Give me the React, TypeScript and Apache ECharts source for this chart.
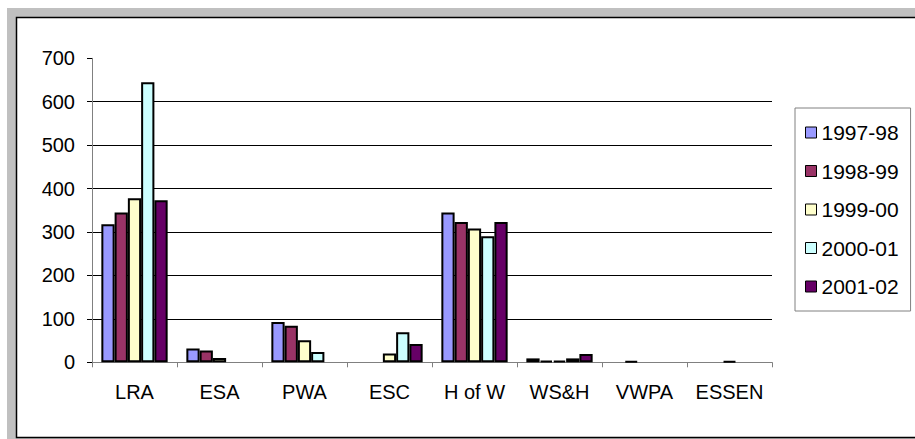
import React, { useEffect, useRef } from "react";
import * as echarts from "echarts";

const categories = ["LRA", "ESA", "PWA", "ESC", "H of W", "WS&H", "VWPA", "ESSEN"];
const seriesNames = ["1997-98", "1998-99", "1999-00", "2000-01", "2001-02"];
const v1997 = [318, 32, 93, null, 345, 9, null, null];
const v1998 = [345, 27, 84, null, 323, 4, 3, null];
const v1999 = [378, 10, 51, 20, 308, 4, null, 3];
const v2000 = [645, null, 24, 69, 290, 9, null, null];
const v2001 = [373, null, null, 42, 323, 19, null, null];
const seriesValues = [v1997, v1998, v1999, v2000, v2001];
const colors = ["#9999FF", "#993366", "#FFFFCC", "#CCFFFF", "#660066"];
const yMin = 0;
const yMax = 700;
const yStep = 100;

const FONT = "'Liberation Sans', Arial, sans-serif";

export default function App() {
  const ref = useRef<HTMLDivElement>(null);
  useEffect(() => {
    if (!ref.current) return;
    const chart = echarts.init(ref.current, null, { renderer: "svg" });
    chart.setOption({
      animation: false,
      backgroundColor: "#ffffff",
      textStyle: { fontFamily: FONT, color: "#000" },
      graphic: [
        {
          type: "rect",
          z: -10,
          shape: { x: 7, y: 8, width: 920, height: 440 },
          style: { fill: "#C0C0C0" },
        },
        {
          type: "rect",
          z: -9,
          shape: { x: 16.5, y: 17.5, width: 910, height: 420 },
          style: { fill: "#ffffff", stroke: "#000000", lineWidth: 1.5 },
        },
      ],
      grid: {
        left: 92,
        right: 143,
        top: 58.3,
        bottom: 76.7,
        containLabel: false,
      },
      legend: {
        orient: "vertical",
        left: 795,
        top: 108,
        padding: [14, 12, 14, 10],
        itemWidth: 11,
        itemHeight: 11,
        itemGap: 17.5,
        icon: "rect",
        borderColor: "#808080",
        borderWidth: 1,
        backgroundColor: "#ffffff",
        itemStyle: { borderColor: "#000", borderWidth: 1 },
        textStyle: { fontSize: 21, lineHeight: 21, color: "#000", fontFamily: FONT },
        data: seriesNames,
      },
      xAxis: {
        type: "category",
        data: categories,
        axisLine: { show: true, lineStyle: { color: "#808080", width: 1 } },
        axisTick: { show: true, length: 5, lineStyle: { color: "#808080" } },
        axisLabel: { interval: 0, fontSize: 20, margin: 20, color: "#000", fontFamily: FONT },
        splitLine: { show: false },
      },
      yAxis: {
        type: "value",
        min: yMin,
        max: yMax,
        interval: yStep,
        axisLine: { show: true, lineStyle: { color: "#808080", width: 1 } },
        axisTick: { show: true, length: 5, lineStyle: { color: "#000" } },
        axisLabel: { fontSize: 20, margin: 17, color: "#000", fontFamily: FONT },
        splitLine: {
          show: true,
          showMaxLine: false,
          lineStyle: { color: "#000", width: 1 },
        },
      },
      series: seriesNames.map((name, i) => ({
        name,
        type: "bar",
        data: seriesValues[i],
        barGap: "0%",
        barCategoryGap: "22%",
        itemStyle: { color: colors[i], borderColor: "#000", borderWidth: 2 },
        emphasis: { disabled: true },
      })),
    });
    return () => chart.dispose();
  }, []);
  return (
    <div
      ref={ref}
      style={{ position: "absolute", left: 0, top: 0, width: 915, height: 439 }}
    />
  );
}
